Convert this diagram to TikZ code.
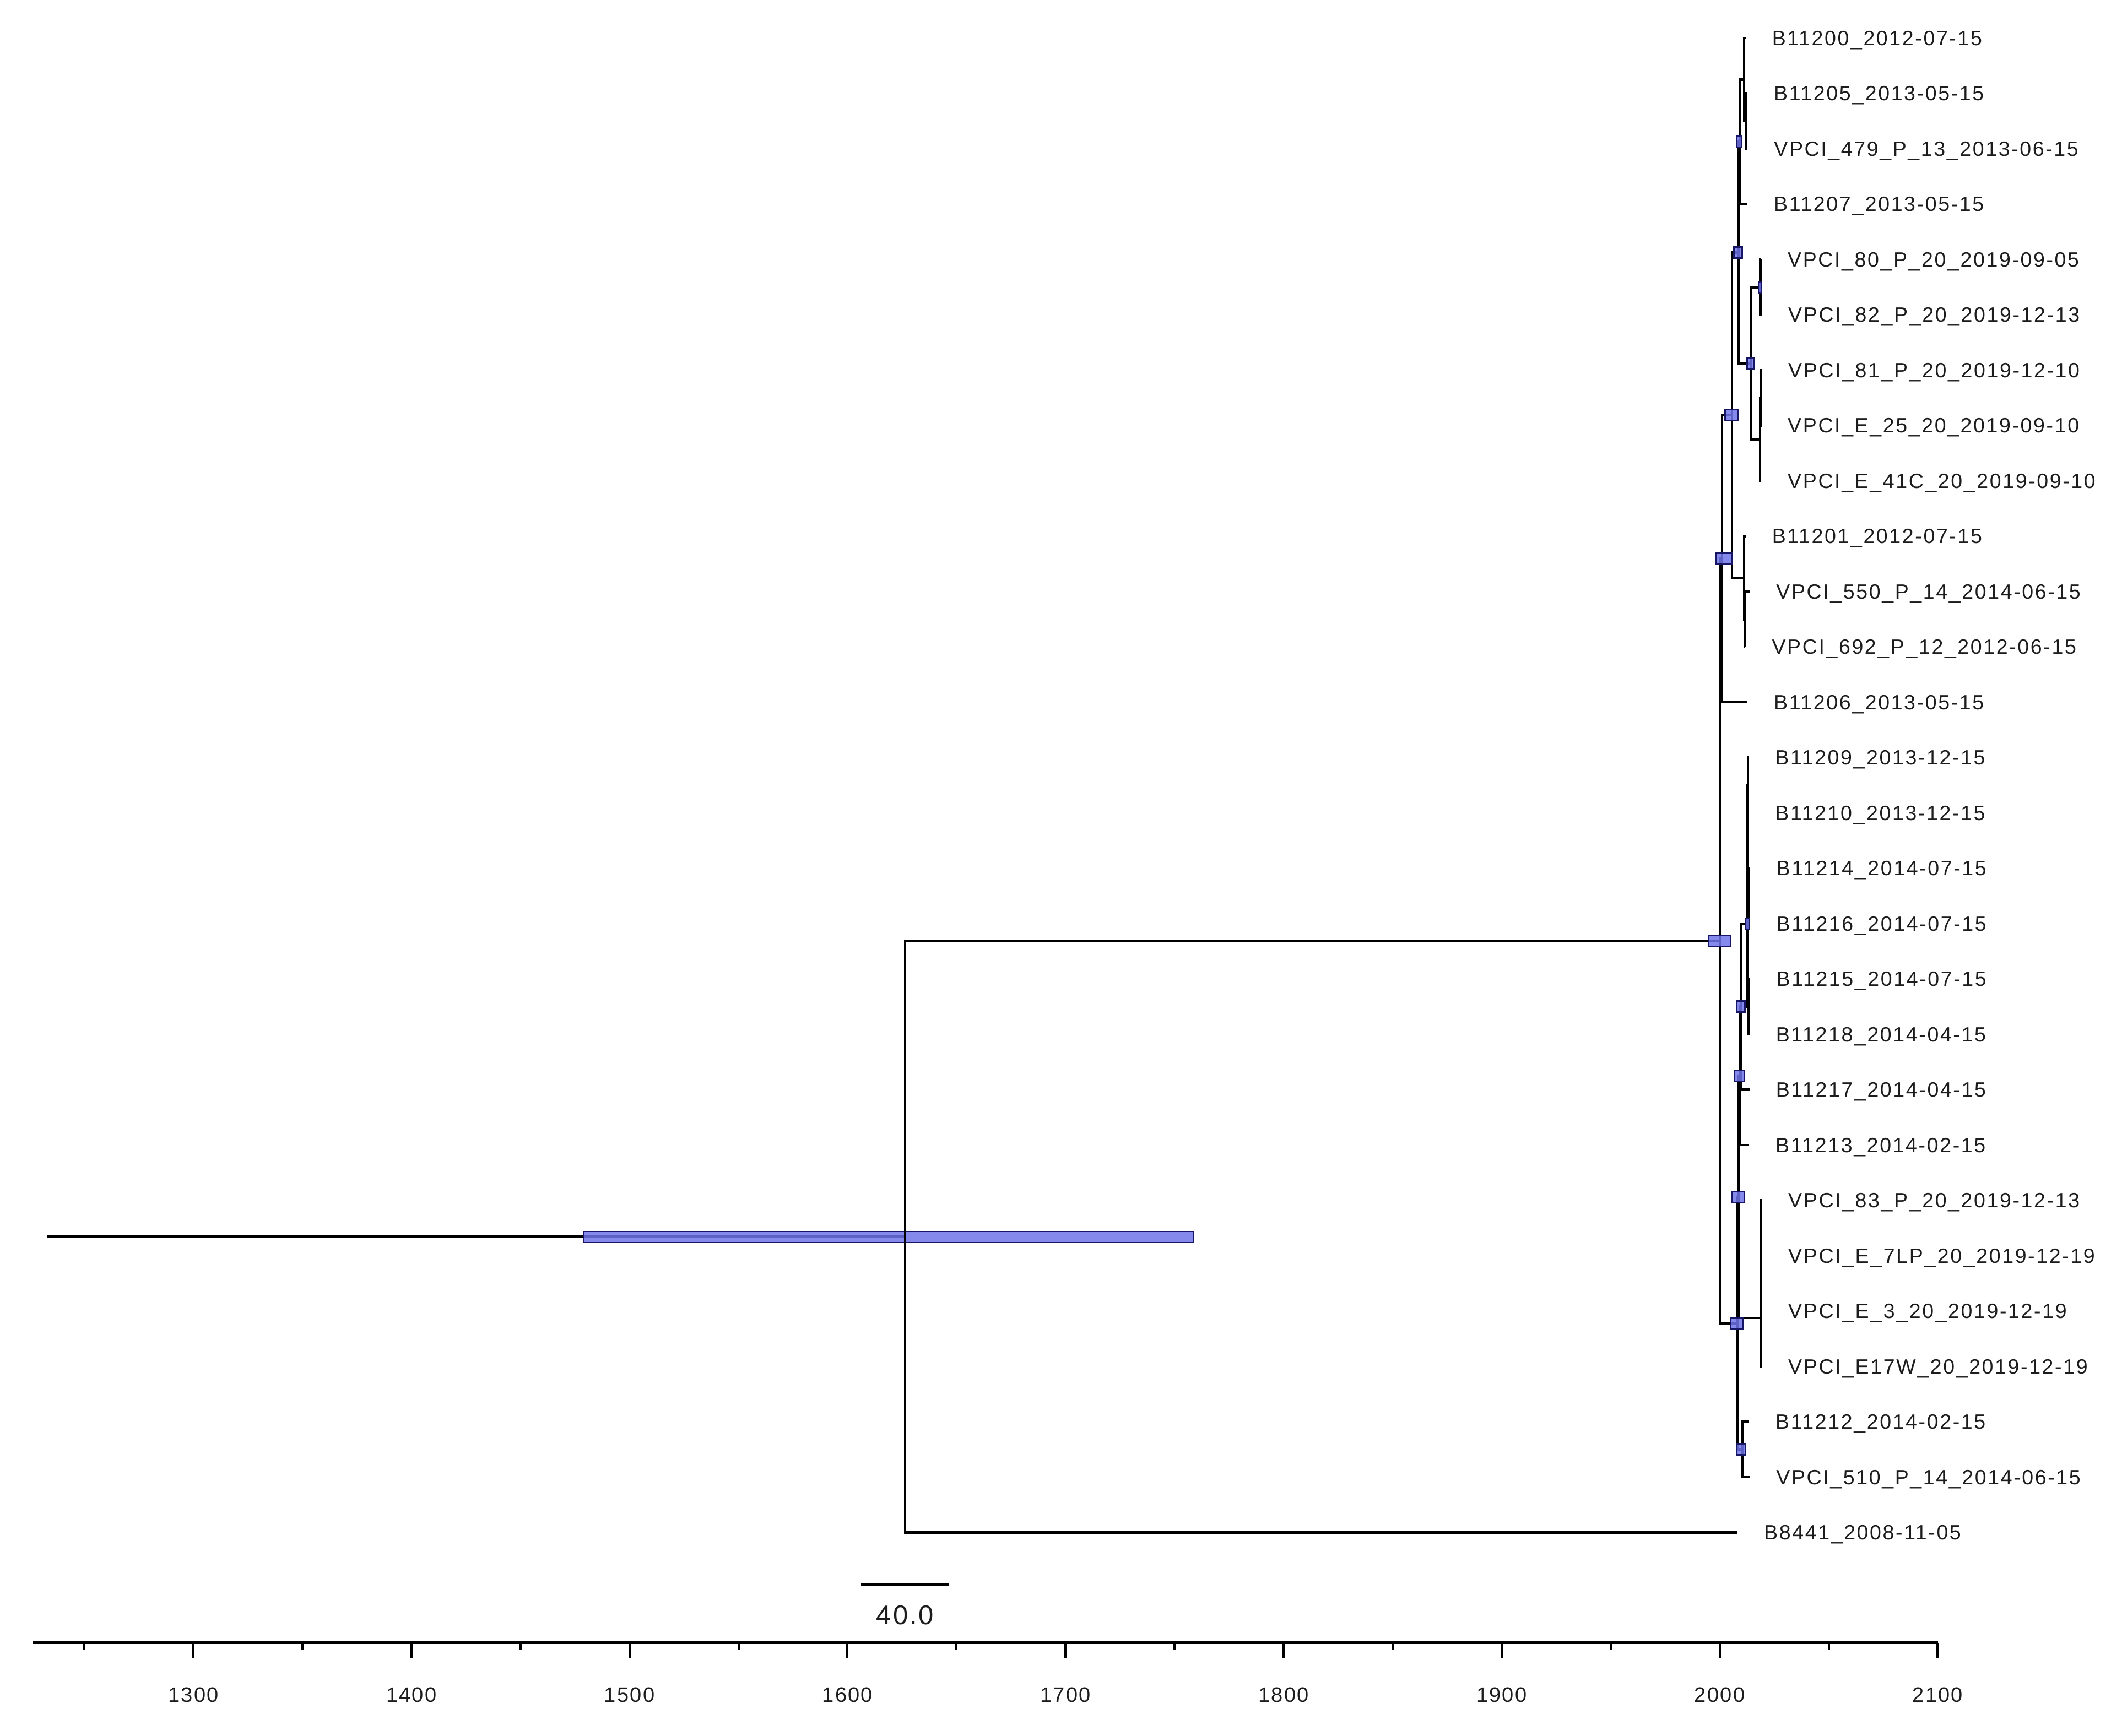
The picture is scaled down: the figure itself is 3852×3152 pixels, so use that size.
\documentclass[tikz,border=0pt]{standalone}
\usepackage{fontspec}
\setmainfont{Liberation Sans}
\newfontfamily\labfont[LetterSpace=7]{Liberation Sans}
\newfontfamily\axfont[LetterSpace=6]{Liberation Sans}
\definecolor{hpd}{RGB}{112,116,232}
\definecolor{hpdline}{RGB}{22,22,100}
\definecolor{txt}{RGB}{28,28,28}
\begin{document}
\begin{tikzpicture}[x=1pt,y=-1pt,
  branch/.style={line width=4.6pt, draw=black, line join=miter},
  hpdbox/.style={draw=hpdline, line width=2.6pt, fill=hpd, fill opacity=0.85, inner sep=0pt, minimum height=20pt},
  lab/.style={anchor=west, inner sep=0pt, xshift=48pt, font=\fontsize{37.5}{40}\selectfont\labfont, text height=26.8pt, text depth=0pt, text=txt},
  ticklab/.style={inner sep=0pt, font=\fontsize{38}{40}\selectfont\axfont, text height=27pt, text depth=0pt, text=txt},
  scalelab/.style={inner sep=0pt, font=\fontsize{49}{52}\selectfont\axfont, text height=35pt, text depth=0pt, text=txt},
  axisline/.style={line width=5.5pt, draw=black},
  tickline/.style={line width=4pt, draw=black}]
\useasboundingbox (0,0) rectangle (3852,3152);

% ---------- tips ----------
\coordinate (t0) at (3168.6,69);
\coordinate (t1) at (3171.9,169.5);
\coordinate (t2) at (3172.2,270);
\coordinate (t3) at (3171.9,370.5);
\coordinate (t4) at (3196.9,471);
\coordinate (t5) at (3198.0,571.5);
\coordinate (t6) at (3197.9,672);
\coordinate (t7) at (3197.0,772.5);
\coordinate (t8) at (3197.0,873);
\coordinate (t9) at (3168.6,973.5);
\coordinate (t10) at (3176.2,1074);
\coordinate (t11) at (3168.3,1174.5);
\coordinate (t12) at (3171.9,1275);
\coordinate (t13) at (3174.2,1375.5);
\coordinate (t14) at (3174.2,1476);
\coordinate (t15) at (3176.5,1576.5);
\coordinate (t16) at (3176.5,1677);
\coordinate (t17) at (3176.5,1777.5);
\coordinate (t18) at (3175.6,1878);
\coordinate (t19) at (3175.6,1978.5);
\coordinate (t20) at (3174.9,2079);
\coordinate (t21) at (3198.0,2179.5);
\coordinate (t22) at (3198.0,2280);
\coordinate (t23) at (3198.0,2380.5);
\coordinate (t24) at (3198.0,2481);
\coordinate (t25) at (3174.9,2581.5);
\coordinate (t26) at (3176.2,2682);
\coordinate (t27) at (3154.0,2782.5);

% ---------- internal nodes ----------
\coordinate (T2) at (3170,219.75);
\coordinate (T1) at (3166,144.4);
\coordinate (A111) at (3159,257.4);
\coordinate (V1) at (3195.5,521.25);
\coordinate (V2a) at (3196.5,722.25);
\coordinate (V2) at (3195,797.6);
\coordinate (A112) at (3179,659.4);
\coordinate (A11) at (3156,458.4);
\coordinate (A12b) at (3167,1124.25);
\coordinate (A12) at (3166,1048.9);
\coordinate (A1) at (3144,753.6);
\coordinate (A) at (3126,1014.3);
\coordinate (G1) at (3173,1425.75);
\coordinate (G2) at (3175,1626.75);
\coordinate (G3) at (3172,1526.25);
\coordinate (G4) at (3174,1827.75);
\coordinate (G) at (3172,1677);
\coordinate (N1) at (3160,1827.75);
\coordinate (N2) at (3158,1953.4);
\coordinate (W1) at (3197,2229.75);
\coordinate (W2) at (3196.5,2305.1);
\coordinate (W) at (3196,2393);
\coordinate (B1) at (3156,2173.2);
\coordinate (B12) at (3163,2631.75);
\coordinate (B) at (3154,2402.5);
\coordinate (C) at (3122,1708.4);
\coordinate (R) at (1643,2245.5);
\coordinate (R0) at (86,2245.5);

% ---------- root stem and its HPD bar ----------
\draw[branch] (R0) -- (R);
\node[hpdbox, line width=2pt, minimum width=1106pt] (barR) at (1613,2245.5) {};

% ---------- branches ----------
\draw[branch] (C) -| (R) |- (t27);
\draw[branch] (A) -| (C) |- (B);
\draw[branch] (A1) -| (A) |- (t12);
\draw[branch] (A11) -| (A1) |- (A12);
\draw[branch] (A111) -| (A11) |- (A112);
\draw[branch] (T1) -| (A111) |- (t3);
\draw[branch] (t0) -| (T1) |- (T2);
\draw[branch] (t1) -| (T2) |- (t2);
\draw[branch] (V1) -| (A112) |- (V2);
\draw[branch] (t4) -| (V1) |- (t5);
\draw[branch] (V2a) -| (V2) |- (t8);
\draw[branch] (t6) -| (V2a) |- (t7);
\draw[branch] (t9) -| (A12) |- (A12b);
\draw[branch] (t10) -| (A12b) |- (t11);
\draw[branch] (B1) -| (B) |- (B12);
\draw[branch] (N2) -| (B1) |- (W);
\draw[branch] (N1) -| (N2) |- (t20);
\draw[branch] (G) -| (N1) |- (t19);
\draw[branch] (G3) -| (G) |- (G4);
\draw[branch] (G1) -| (G3) |- (G2);
\draw[branch] (t13) -| (G1) |- (t14);
\draw[branch] (t15) -| (G2) |- (t16);
\draw[branch] (t17) -| (G4) |- (t18);
\draw[branch] (W2) -| (W) |- (t24);
\draw[branch] (W1) -| (W2) |- (t23);
\draw[branch] (t21) -| (W1) |- (t22);
\draw[branch] (t25) -| (B12) |- (t26);

% ---------- node HPD boxes ----------
\node[hpdbox, minimum width=10pt] (bA111) at (3157,257.4) {};
\node[hpdbox, minimum width=15pt] (bA11) at (3155,458.4) {};
\node[hpdbox, minimum width=6pt] (bV1) at (3195,521.25) {};
\node[hpdbox, minimum width=13pt] (bA112) at (3178,659.4) {};
\node[hpdbox, minimum width=23pt] (bA1) at (3143,753.6) {};
\node[hpdbox, minimum width=29pt] (bA) at (3129,1014.3) {};
\node[hpdbox, minimum width=40pt] (bC) at (3122,1708) {};
\node[hpdbox, minimum width=8pt] (bG) at (3172,1677) {};
\node[hpdbox, minimum width=15pt] (bN1) at (3160,1827.75) {};
\node[hpdbox, minimum width=18pt] (bN2) at (3157,1953.4) {};
\node[hpdbox, minimum width=22pt] (bB1) at (3155,2173.2) {};
\node[hpdbox, minimum width=23pt] (bB) at (3153,2402.5) {};
\node[hpdbox, minimum width=16pt] (bB12) at (3160,2631.75) {};

% ---------- tip labels ----------
\node[lab] (L0) at (t0) {B11200\_2012-07-15};
\node[lab] (L1) at (t1) {B11205\_2013-05-15};
\node[lab] (L2) at (t2) {VPCI\_479\_P\_13\_2013-06-15};
\node[lab] (L3) at (t3) {B11207\_2013-05-15};
\node[lab] (L4) at (t4) {VPCI\_80\_P\_20\_2019-09-05};
\node[lab] (L5) at (t5) {VPCI\_82\_P\_20\_2019-12-13};
\node[lab] (L6) at (t6) {VPCI\_81\_P\_20\_2019-12-10};
\node[lab] (L7) at (t7) {VPCI\_E\_25\_20\_2019-09-10};
\node[lab] (L8) at (t8) {VPCI\_E\_41C\_20\_2019-09-10};
\node[lab] (L9) at (t9) {B11201\_2012-07-15};
\node[lab] (L10) at (t10) {VPCI\_550\_P\_14\_2014-06-15};
\node[lab] (L11) at (t11) {VPCI\_692\_P\_12\_2012-06-15};
\node[lab] (L12) at (t12) {B11206\_2013-05-15};
\node[lab] (L13) at (t13) {B11209\_2013-12-15};
\node[lab] (L14) at (t14) {B11210\_2013-12-15};
\node[lab] (L15) at (t15) {B11214\_2014-07-15};
\node[lab] (L16) at (t16) {B11216\_2014-07-15};
\node[lab] (L17) at (t17) {B11215\_2014-07-15};
\node[lab] (L18) at (t18) {B11218\_2014-04-15};
\node[lab] (L19) at (t19) {B11217\_2014-04-15};
\node[lab] (L20) at (t20) {B11213\_2014-02-15};
\node[lab] (L21) at (t21) {VPCI\_83\_P\_20\_2019-12-13};
\node[lab] (L22) at (t22) {VPCI\_E\_7LP\_20\_2019-12-19};
\node[lab] (L23) at (t23) {VPCI\_E\_3\_20\_2019-12-19};
\node[lab] (L24) at (t24) {VPCI\_E17W\_20\_2019-12-19};
\node[lab] (L25) at (t25) {B11212\_2014-02-15};
\node[lab] (L26) at (t26) {VPCI\_510\_P\_14\_2014-06-15};
\node[lab] (L27) at (t27) {B8441\_2008-11-05};

% ---------- scale bar ----------
\coordinate (sb0) at (1563,2877);
\coordinate (sb1) at (1723,2877);
\draw[axisline] (sb0) -- (sb1);
\node[scalelab] (sbl) at (1643,2932) {40.0};

% ---------- time axis ----------
\coordinate (ax0) at (60,2982.5);
\coordinate (ax1) at (3518,2982.5);
\draw[axisline] (ax0) -- (ax1);
\foreach \yr in {1300,1400,...,2100}{
  \draw[tickline] ({351+(\yr-1300)*3.958},2982.5) -- ++(0,27.5);
  \node[ticklab] (k\yr) at ({351+(\yr-1300)*3.958},3077) {\yr};
}
\foreach \yr in {1250,1350,...,2050}{
  \draw[tickline] ({351+(\yr-1300)*3.958},2982.5) -- ++(0,13);
}
\end{tikzpicture}
\end{document}
